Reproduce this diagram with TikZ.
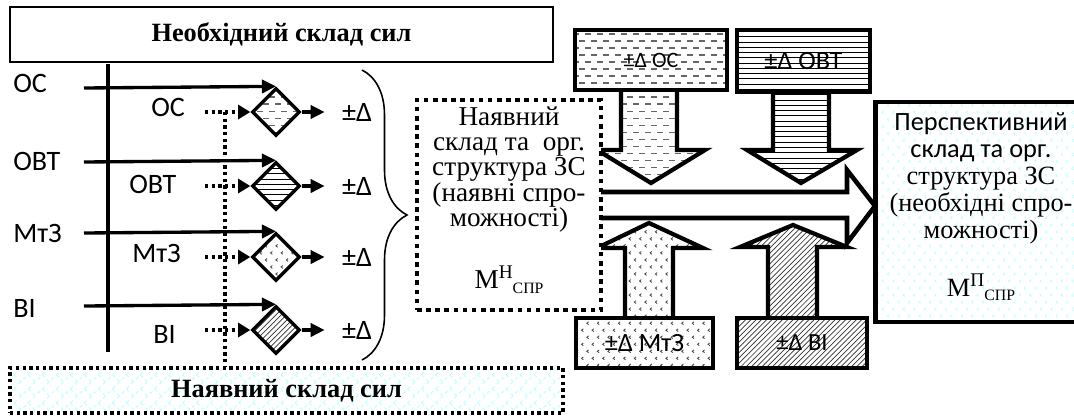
\documentclass[tikz,border=0pt]{standalone}
\usepackage{fontspec}
\setmainfont{Liberation Serif}
\newfontfamily\calib{Carlito}
\usetikzlibrary{positioning,arrows.meta,shapes.geometric,patterns,decorations.pathreplacing}

% fills
\pgfdeclarepatternformonly{hdashes}{\pgfqpoint{-1pt}{-1pt}}{\pgfqpoint{8pt}{9pt}}{\pgfqpoint{6.8pt}{8pt}}{%
  \pgfsetlinewidth{0.9pt}%
  \pgfpathmoveto{\pgfqpoint{0pt}{2pt}}\pgfpathlineto{\pgfqpoint{3.4pt}{2pt}}%
  \pgfpathmoveto{\pgfqpoint{3.4pt}{6pt}}\pgfpathlineto{\pgfqpoint{6.8pt}{6pt}}%
  \pgfusepath{stroke}}
\pgfdeclarepatternformonly{ltmarks}{\pgfqpoint{-1pt}{-1pt}}{\pgfqpoint{7pt}{9pt}}{\pgfqpoint{6pt}{8pt}}{%
  \pgfsetlinewidth{0.5pt}%
  \pgfpathmoveto{\pgfqpoint{2pt}{0.6pt}}\pgfpathlineto{\pgfqpoint{1pt}{1.4pt}}\pgfpathlineto{\pgfqpoint{2pt}{2.2pt}}%
  \pgfpathmoveto{\pgfqpoint{5pt}{4.6pt}}\pgfpathlineto{\pgfqpoint{4pt}{5.4pt}}\pgfpathlineto{\pgfqpoint{5pt}{6.2pt}}%
  \pgfusepath{stroke}}
\pgfdeclarepatternformonly{diaglattice}{\pgfqpoint{-1pt}{-1pt}}{\pgfqpoint{9pt}{9pt}}{\pgfqpoint{8pt}{8pt}}{%
  \pgfsetlinewidth{0.6pt}%
  \pgfpathmoveto{\pgfqpoint{0pt}{0pt}}\pgfpathlineto{\pgfqpoint{8pt}{8pt}}%
  \pgfpathmoveto{\pgfqpoint{0pt}{8pt}}\pgfpathlineto{\pgfqpoint{4pt}{4pt}}%
  \pgfusepath{stroke}}

\newcommand{\mspr}[1]{М\raisebox{0.8ex}{\fontsize{11}{11}\selectfont #1}\raisebox{-0.4ex}{\fontsize{9}{9}\selectfont СПР}}

\begin{document}
\begin{tikzpicture}[x=0.02cm, y=-0.02cm, line join=miter,
  lab/.style={font=\calib\fontsize{16}{16}\selectfont, inner sep=0, anchor=west},
  dia/.style={diamond, draw, line width=1.9pt, minimum width=0.96cm, minimum height=0.96cm, inner sep=0},
  arr/.style={-{Triangle[length=8pt,width=7.5pt]}, line width=1.9pt},
  dotarr/.style={-{Triangle[length=7pt,width=8pt]}, line width=1.9pt, dash pattern=on 1.9pt off 1.9pt},
  dotln/.style={line width=1.9pt, dash pattern=on 1.9pt off 1.9pt},
  pm/.style={font=\calib\fontsize{16}{16}\selectfont, inner xsep=0.34cm, inner ysep=0},
  dbox/.style={draw, line width=2.4pt, inner sep=0},
  blk/.style={draw, line width=2.4pt},
  ser/.style={align=center, font=\fontsize{15.5}{14.4}\selectfont}]
  \useasboundingbox (0,0) rectangle (1074,417);

  % frames of the two force lists
  \node[draw, line width=0.8pt, minimum width=10.86cm, minimum height=1.1cm,
    font=\bfseries\fontsize{15}{15}\selectfont] (need) at (281.5,34.5) {Необхідний склад сил};
  \node[draw, dotln, pattern=diaglattice, pattern color=cyan!25, minimum width=11.06cm, minimum height=0.9cm,
    font=\bfseries\fontsize{15}{15}\selectfont] (have) at (286.5,390.5) {Наявний склад сил};

  % left column
  \node[lab] (r1) at (13,83) {ОС};
  \node[lab] (r2) at (13,161) {ОВТ};
  \node[lab] (r3) at (13,233) {МтЗ};
  \node[lab] (r4) at (13,308) {ВІ};
  \coordinate (vt) at (108,64);
  \coordinate (vb) at (108,352);
  \draw[line width=1.9pt] (vt) -- (vb);

  \node[dia, pattern=hdashes, pattern color=black!60] (d1) at (276,112) {};
  \node[dia, pattern=horizontal lines] (d2) at (276,186) {};
  \node[dia, pattern=ltmarks, pattern color=black!70] (d3) at (276,257) {};
  \node[dia, pattern=north east lines, pattern color=black!80] (d4) at (276,330) {};

  \coordinate (a1) at (84,88);
  \coordinate (a2) at (84,162);
  \coordinate (a3) at (84,233);
  \coordinate (a4) at (84,306);
  \draw[arr] (a1) -- (d1.north);
  \draw[arr] (a2) -- (d2.north);
  \draw[arr] (a3) -- (d3.north);
  \draw[arr] (a4) -- (d4.north);

  \node[lab] (s1) at (151,107) {ОС};
  \node[lab] (s2) at (129,184) {ОВТ};
  \node[lab] (s3) at (132,253) {МтЗ};
  \node[lab] (s4) at (153,334) {ВІ};
  \coordinate (p1) at (205,112);
  \coordinate (p2) at (205,186);
  \coordinate (p3) at (205,257);
  \coordinate (p4) at (205,330);
  \draw[dotarr] (p1) -- (d1.west);
  \draw[dotarr] (p2) -- (d2.west);
  \draw[dotarr] (p3) -- (d3.west);
  \draw[dotarr] (p4) -- (d4.west);
  \coordinate (vd) at (225,112);
  \draw[dotln] (vd) -- (vd |- have.north);

  \node[pm, right=0.46cm of d1] (pm1) {±Δ};
  \node[pm, right=0.46cm of d2] (pm2) {±Δ};
  \node[pm, right=0.46cm of d3] (pm3) {±Δ};
  \node[pm, right=0.46cm of d4] (pm4) {±Δ};
  \draw[arr] (d1.east) -- (pm1.west);
  \draw[arr] (d2.east) -- (pm2.west);
  \draw[arr] (d3.east) -- (pm3.west);
  \draw[arr] (d4.east) -- (pm4.west);

  \coordinate (br1) at (362,70);
  \coordinate (br2) at (362,360);
  \draw[decorate, decoration={brace, amplitude=0.9cm}, line width=0.9pt] (br1) -- (br2);

  % block arrows
  \draw[blk, pattern=hdashes, pattern color=black!60] (621,90) -- (621,150) -- (597,150) -- (651,183) -- (705,150) -- (677,150) -- (677,90);
  \draw[blk, pattern=horizontal lines] (773,92) -- (773,150) -- (747,150) -- (801,183) -- (857,150) -- (829,150) -- (829,92);
  \draw[blk, pattern=ltmarks, pattern color=black!70] (625,318) -- (625,248) -- (597,248) -- (649,223) -- (703,248) -- (673,248) -- (673,318);
  \draw[blk, pattern=north east lines, pattern color=black!80] (768,318) -- (768,247) -- (740,247) -- (793,225) -- (847,247) -- (817,247) -- (817,318);
  \draw[blk, line width=2.6pt, fill=white] (601,192) -- (847,192) -- (847,170) -- (875,206) -- (847,243) -- (847,218) -- (601,218);

  % change boxes
  \node[dbox, pattern=hdashes, pattern color=black!60, minimum width=3.04cm, minimum height=1.2cm,
    font=\calib\fontsize{12.5}{12.5}\selectfont] (doc) at (651,60) {±Δ ОС};
  \node[dbox, pattern=horizontal lines, minimum width=2.66cm, minimum height=1.24cm,
    font=\calib\fontsize{15}{15}\selectfont] (dovt) at (803.5,61) {±Δ ОВТ};
  \node[dbox, pattern=ltmarks, pattern color=black!70, minimum width=2.74cm, minimum height=1.0cm,
    font=\calib\fontsize{15}{15}\selectfont] (dmtz) at (644.5,343) {±Δ МтЗ};
  \node[dbox, pattern=north east lines, pattern color=black!80, minimum width=2.6cm, minimum height=1.0cm,
    font=\calib\fontsize{14}{14}\selectfont] (dvi) at (802,343) {±Δ ВІ};

  % current and future structure
  \node[draw, line width=2.6pt, dash pattern=on 2.6pt off 2.6pt, fill=white,
    minimum width=3.68cm, minimum height=4.2cm] (cur) at (509,205) {};
  \node[ser] (curtxt) at (509,200) {Наявний\\склад та\ \ орг.\\структура ЗС\\(наявні спро-\\можності)\\[18pt]\mspr{Н}};
  \node[draw, line width=2.8pt, pattern=ltmarks, pattern color=cyan!25,
    minimum width=4.13cm, minimum height=4.4cm] (fut) at (978.5,212) {};
  \node[ser, font=\fontsize{15}{15.3}\selectfont] (futtxt) at (981,207) {{\calib Перспективний}\\{\calib склад та орг.}\\структура ЗС\\(необхідні спро-\\можності)\\[16pt]\mspr{П}};
\end{tikzpicture}
\end{document}
